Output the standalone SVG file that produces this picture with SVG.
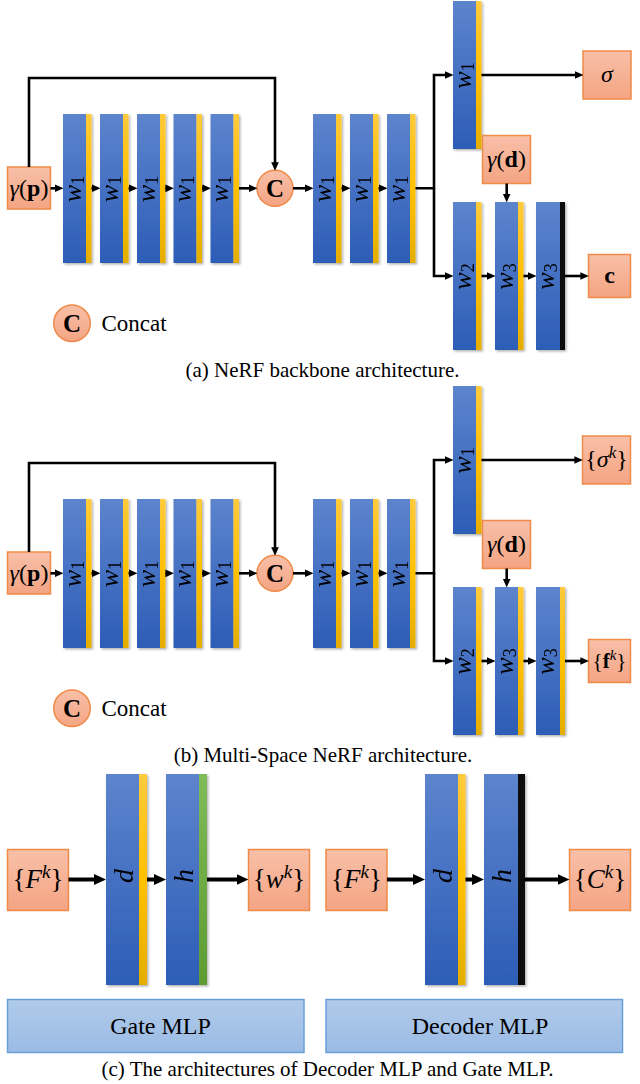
<svg xmlns="http://www.w3.org/2000/svg" width="640" height="1084" viewBox="0 0 640 1084">
  <defs>
    <linearGradient id="gBlue" x1="0" y1="0" x2="0" y2="1">
      <stop offset="0" stop-color="#5d84cd"/>
      <stop offset="1" stop-color="#2d5db7"/>
    </linearGradient>
    <linearGradient id="gYellow" x1="0" y1="0" x2="0" y2="1">
      <stop offset="0" stop-color="#ffca3c"/>
      <stop offset="0.5" stop-color="#ffc000"/>
      <stop offset="1" stop-color="#e4ae00"/>
    </linearGradient>
    <linearGradient id="gGreen" x1="0" y1="0" x2="0" y2="1">
      <stop offset="0" stop-color="#80bb5a"/>
      <stop offset="1" stop-color="#5c9c32"/>
    </linearGradient>
    <linearGradient id="gSalmon" x1="0" y1="0" x2="0" y2="1">
      <stop offset="0" stop-color="#f8c0a8"/>
      <stop offset="1" stop-color="#f4a483"/>
    </linearGradient>
    <linearGradient id="gPanel" x1="0" y1="0" x2="0" y2="1">
      <stop offset="0" stop-color="#b0cbea"/>
      <stop offset="1" stop-color="#9bbbe5"/>
    </linearGradient>
    <filter id="shadow" x="-20%" y="-5%" width="150%" height="112%">
      <feDropShadow dx="1.5" dy="1.5" stdDeviation="1" flood-color="#000" flood-opacity="0.3"/>
    </filter>
    <marker id="arrow" viewBox="0 0 10 10" markerUnits="userSpaceOnUse" markerWidth="8.5" markerHeight="8.5" refX="2" refY="5" orient="auto">
      <path d="M0,0.5 L10,5 L0,9.5 z" fill="#000"/>
    </marker>
    <marker id="arrowL" viewBox="0 0 10 10" markerUnits="userSpaceOnUse" markerWidth="12" markerHeight="12" refX="2" refY="5" orient="auto">
      <path d="M0,0.5 L10,5 L0,9.5 z" fill="#000"/>
    </marker>
    <style>
      .blue { fill: url(#gBlue); }
      .yel { fill: url(#gYellow); }
      .grn { fill: url(#gGreen); }
      .blk { fill: #111; }
      .bar { filter: url(#shadow); }
      .box { fill: url(#gSalmon); stroke: #ef8a48; stroke-width: 1.5; }
      .panel { fill: url(#gPanel); stroke: #6aa0da; stroke-width: 1.5; }
      .wire { fill: none; stroke: #000; stroke-width: 2.6; marker-end: url(#arrow); }
      .wireL { fill: none; stroke: #000; stroke-width: 4; marker-end: url(#arrowL); }
      text { font-family: "Liberation Serif", "Times New Roman", serif; fill: #000; }
      .lbl { font-size: 26px; font-style: italic; text-anchor: middle; }
      .lblL { font-size: 28px; font-style: italic; text-anchor: middle; }
      .sub { font-size: 18px; font-style: normal; }
      .math { font-size: 24px; text-anchor: middle; }
      .mathL { font-size: 27px; text-anchor: middle; }
      .it { font-style: italic; }
      .bf { font-weight: bold; }
      .sup { font-size: 17px; font-style: italic; }
      .supL { font-size: 19px; font-style: italic; }
      .cap { font-size: 21px; text-anchor: middle; }
      .leg { font-size: 23px; }
      .circ { fill: url(#gSalmon); stroke: #ef8a48; stroke-width: 1.5; }
      .ctext { font-size: 25px; font-weight: bold; text-anchor: middle; }
      .ptext { font-size: 24px; text-anchor: middle; }
    </style>
  </defs>

  <!-- ===== (a) NeRF backbone ===== -->
  <g id="a-input">
    <rect class="box" x="7.5" y="167" width="43" height="42"/>
    <text class="math" x="29" y="196"><tspan class="it">γ</tspan>(<tspan class="bf">p</tspan>)</text>
  </g>
  <g id="a-l1" class="bar"><rect class="blue" x="63" y="114" width="23" height="149"/><rect class="yel" x="86" y="114" width="5.5" height="149"/><text class="lbl" transform="translate(80.5,189) rotate(-90)">w<tspan class="sub" dy="3">1</tspan></text></g>
  <g id="a-l2" class="bar"><rect class="blue" x="100" y="114" width="23" height="149"/><rect class="yel" x="123" y="114" width="5.5" height="149"/><text class="lbl" transform="translate(117.5,189) rotate(-90)">w<tspan class="sub" dy="3">1</tspan></text></g>
  <g id="a-l3" class="bar"><rect class="blue" x="137" y="114" width="23" height="149"/><rect class="yel" x="160" y="114" width="5.5" height="149"/><text class="lbl" transform="translate(154.5,189) rotate(-90)">w<tspan class="sub" dy="3">1</tspan></text></g>
  <g id="a-l4" class="bar"><rect class="blue" x="173.5" y="114" width="23" height="149"/><rect class="yel" x="196.5" y="114" width="5.5" height="149"/><text class="lbl" transform="translate(191,189) rotate(-90)">w<tspan class="sub" dy="3">1</tspan></text></g>
  <g id="a-l5" class="bar"><rect class="blue" x="210.5" y="114" width="23" height="149"/><rect class="yel" x="233.5" y="114" width="5.5" height="149"/><text class="lbl" transform="translate(228,189) rotate(-90)">w<tspan class="sub" dy="3">1</tspan></text></g>
  <g id="a-concat">
    <circle class="circ" cx="275" cy="188.3" r="18"/>
    <text class="ctext" x="275" y="197">C</text>
  </g>
  <g id="a-l6" class="bar"><rect class="blue" x="313" y="114" width="23" height="149"/><rect class="yel" x="336" y="114" width="5.5" height="149"/><text class="lbl" transform="translate(330.5,189) rotate(-90)">w<tspan class="sub" dy="3">1</tspan></text></g>
  <g id="a-l7" class="bar"><rect class="blue" x="350" y="114" width="23" height="149"/><rect class="yel" x="373" y="114" width="5.5" height="149"/><text class="lbl" transform="translate(367.5,189) rotate(-90)">w<tspan class="sub" dy="3">1</tspan></text></g>
  <g id="a-l8" class="bar"><rect class="blue" x="387" y="114" width="23" height="149"/><rect class="yel" x="410" y="114" width="5.5" height="149"/><text class="lbl" transform="translate(404.5,189) rotate(-90)">w<tspan class="sub" dy="3">1</tspan></text></g>
  <g id="a-sigma-layer" class="bar"><rect class="blue" x="453" y="1" width="23" height="148"/><rect class="yel" x="476" y="1" width="5.5" height="148"/><text class="lbl" transform="translate(470.5,75.5) rotate(-90)">w<tspan class="sub" dy="3">1</tspan></text></g>
  <g id="a-sigma">
    <rect class="box" x="583" y="51" width="48" height="48"/>
    <text class="ptext it" x="607" y="82">σ</text>
  </g>
  <g id="a-dir">
    <rect class="box" x="482.5" y="135.5" width="48" height="48"/>
    <text class="math" x="506.5" y="167"><tspan class="it">γ</tspan>(<tspan class="bf">d</tspan>)</text>
  </g>
  <g id="a-c1" class="bar"><rect class="blue" x="453" y="202" width="23" height="148"/><rect class="yel" x="476" y="202" width="5.5" height="148"/><text class="lbl" transform="translate(470.5,276.5) rotate(-90)">w<tspan class="sub" dy="3">2</tspan></text></g>
  <g id="a-c2" class="bar"><rect class="blue" x="495" y="202" width="23" height="148"/><rect class="yel" x="518" y="202" width="5.5" height="148"/><text class="lbl" transform="translate(512.5,276.5) rotate(-90)">w<tspan class="sub" dy="3">3</tspan></text></g>
  <g id="a-c3" class="bar"><rect class="blue" x="536" y="202" width="24" height="148"/><rect class="blk" x="560" y="202" width="5" height="148"/><text class="lbl" transform="translate(554,276.5) rotate(-90)">w<tspan class="sub" dy="3">3</tspan></text></g>
  <g id="a-color">
    <rect class="box" x="588.5" y="254.5" width="42" height="43"/>
    <text class="ptext bf" x="609.5" y="283">c</text>
  </g>
  <g id="a-legend">
    <circle class="circ" cx="72" cy="323.3" r="18.3"/>
    <text class="ctext" x="72" y="332">C</text>
    <text class="leg" x="101.5" y="331">Concat</text>
  </g>
  <text id="a-caption" class="cap" x="322.5" y="377">(a) NeRF backbone architecture.</text>

  <g id="a-connectors">
    <path class="wire" d="M50.5,188.3 H56.6"/>
    <path class="wire" d="M91.5,188.3 H93.6"/>
    <path class="wire" d="M128.5,188.3 H130.6"/>
    <path class="wire" d="M165.5,188.3 H167.1"/>
    <path class="wire" d="M202,188.3 H204.1"/>
    <path class="wire" d="M239,188.3 H250.6"/>
    <path class="wire" d="M293,188.3 H306.6"/>
    <path class="wire" d="M341.5,188.3 H343.6"/>
    <path class="wire" d="M378.5,188.3 H380.6"/>
    <path class="wire" d="M29,167 V78 H275 V163.9"/>
    <path class="wire" d="M415.5,188.3 H434 V75 H446.6"/>
    <path class="wire" d="M434,188.3 V276 H446.6"/>
    <path class="wire" d="M481.5,75 H576.6"/>
    <path class="wire" d="M506.7,183.5 V195.6"/>
    <path class="wire" d="M481.5,276 H488.6"/>
    <path class="wire" d="M523.5,276 H529.6"/>
    <path class="wire" d="M565,276 H582.1"/>
  </g>

  <!-- ===== (b) Multi-Space NeRF ===== -->
  <g transform="translate(0,385)">
    <g id="b-input">
      <rect class="box" x="7.5" y="167" width="43" height="42"/>
      <text class="math" x="29" y="196"><tspan class="it">γ</tspan>(<tspan class="bf">p</tspan>)</text>
    </g>
    <g id="b-l1" class="bar"><rect class="blue" x="63" y="114" width="23" height="149"/><rect class="yel" x="86" y="114" width="5.5" height="149"/><text class="lbl" transform="translate(80.5,189) rotate(-90)">w<tspan class="sub" dy="3">1</tspan></text></g>
    <g id="b-l2" class="bar"><rect class="blue" x="100" y="114" width="23" height="149"/><rect class="yel" x="123" y="114" width="5.5" height="149"/><text class="lbl" transform="translate(117.5,189) rotate(-90)">w<tspan class="sub" dy="3">1</tspan></text></g>
    <g id="b-l3" class="bar"><rect class="blue" x="137" y="114" width="23" height="149"/><rect class="yel" x="160" y="114" width="5.5" height="149"/><text class="lbl" transform="translate(154.5,189) rotate(-90)">w<tspan class="sub" dy="3">1</tspan></text></g>
    <g id="b-l4" class="bar"><rect class="blue" x="173.5" y="114" width="23" height="149"/><rect class="yel" x="196.5" y="114" width="5.5" height="149"/><text class="lbl" transform="translate(191,189) rotate(-90)">w<tspan class="sub" dy="3">1</tspan></text></g>
    <g id="b-l5" class="bar"><rect class="blue" x="210.5" y="114" width="23" height="149"/><rect class="yel" x="233.5" y="114" width="5.5" height="149"/><text class="lbl" transform="translate(228,189) rotate(-90)">w<tspan class="sub" dy="3">1</tspan></text></g>
    <g id="b-concat">
      <circle class="circ" cx="275" cy="188.3" r="18"/>
      <text class="ctext" x="275" y="197">C</text>
    </g>
    <g id="b-l6" class="bar"><rect class="blue" x="313" y="114" width="23" height="149"/><rect class="yel" x="336" y="114" width="5.5" height="149"/><text class="lbl" transform="translate(330.5,189) rotate(-90)">w<tspan class="sub" dy="3">1</tspan></text></g>
    <g id="b-l7" class="bar"><rect class="blue" x="350" y="114" width="23" height="149"/><rect class="yel" x="373" y="114" width="5.5" height="149"/><text class="lbl" transform="translate(367.5,189) rotate(-90)">w<tspan class="sub" dy="3">1</tspan></text></g>
    <g id="b-l8" class="bar"><rect class="blue" x="387" y="114" width="23" height="149"/><rect class="yel" x="410" y="114" width="5.5" height="149"/><text class="lbl" transform="translate(404.5,189) rotate(-90)">w<tspan class="sub" dy="3">1</tspan></text></g>
    <g id="b-sigma-layer" class="bar"><rect class="blue" x="453" y="1" width="23" height="148"/><rect class="yel" x="476" y="1" width="5.5" height="148"/><text class="lbl" transform="translate(470.5,75.5) rotate(-90)">w<tspan class="sub" dy="3">1</tspan></text></g>
    <g id="b-sigma">
      <rect class="box" x="582.5" y="51" width="48" height="48"/>
      <text class="math" x="606.5" y="82">{<tspan class="it">σ</tspan><tspan class="sup" dy="-9">k</tspan><tspan dy="9">}</tspan></text>
    </g>
    <g id="b-dir">
      <rect class="box" x="482.5" y="135.5" width="48" height="48"/>
      <text class="math" x="506.5" y="167"><tspan class="it">γ</tspan>(<tspan class="bf">d</tspan>)</text>
    </g>
    <g id="b-c1" class="bar"><rect class="blue" x="453" y="202" width="23" height="148"/><rect class="yel" x="476" y="202" width="5.5" height="148"/><text class="lbl" transform="translate(470.5,276.5) rotate(-90)">w<tspan class="sub" dy="3">2</tspan></text></g>
    <g id="b-c2" class="bar"><rect class="blue" x="495" y="202" width="23" height="148"/><rect class="yel" x="518" y="202" width="5.5" height="148"/><text class="lbl" transform="translate(512.5,276.5) rotate(-90)">w<tspan class="sub" dy="3">3</tspan></text></g>
    <g id="b-c3" class="bar"><rect class="blue" x="536" y="202" width="24" height="148"/><rect class="yel" x="560" y="202" width="5" height="148"/><text class="lbl" transform="translate(554,276.5) rotate(-90)">w<tspan class="sub" dy="3">3</tspan></text></g>
    <g id="b-feat">
      <rect class="box" x="588.5" y="254.5" width="42" height="43"/>
      <text class="math" x="609.5" y="283" style="font-size:21px">{<tspan class="bf">f</tspan><tspan class="sup" dy="-8" style="font-size:15px">k</tspan><tspan dy="8">}</tspan></text>
    </g>
    <g id="b-legend">
      <circle class="circ" cx="72" cy="323.3" r="18.3"/>
      <text class="ctext" x="72" y="332">C</text>
      <text class="leg" x="101.5" y="331">Concat</text>
    </g>
    <text id="b-caption" class="cap" x="323" y="377">(b) Multi-Space NeRF architecture.</text>

    <g id="b-connectors">
      <path class="wire" d="M50.5,188.3 H56.6"/>
      <path class="wire" d="M91.5,188.3 H93.6"/>
      <path class="wire" d="M128.5,188.3 H130.6"/>
      <path class="wire" d="M165.5,188.3 H167.1"/>
      <path class="wire" d="M202,188.3 H204.1"/>
      <path class="wire" d="M239,188.3 H250.6"/>
      <path class="wire" d="M293,188.3 H306.6"/>
      <path class="wire" d="M341.5,188.3 H343.6"/>
      <path class="wire" d="M378.5,188.3 H380.6"/>
      <path class="wire" d="M29,167 V78 H275 V163.9"/>
      <path class="wire" d="M415.5,188.3 H434 V75 H446.6"/>
      <path class="wire" d="M434,188.3 V276 H446.6"/>
      <path class="wire" d="M481.5,75 H576.1"/>
      <path class="wire" d="M506.7,183.5 V195.6"/>
      <path class="wire" d="M481.5,276 H488.6"/>
      <path class="wire" d="M523.5,276 H529.6"/>
      <path class="wire" d="M565,276 H582.1"/>
    </g>
  </g>

  <!-- ===== (c) Gate MLP and Decoder MLP ===== -->
  <g id="g-in">
    <rect class="box" x="7.5" y="849.5" width="61" height="61"/>
    <text class="mathL" x="38" y="888">{<tspan class="it">F</tspan><tspan class="supL" dy="-10">k</tspan><tspan dy="10">}</tspan></text>
  </g>
  <g id="g-d" class="bar"><rect class="blue" x="106" y="774" width="33" height="211"/><rect class="yel" x="139" y="774" width="8" height="211"/><text class="lblL" transform="translate(133,876) rotate(-90)">d</text></g>
  <g id="g-h" class="bar"><rect class="blue" x="166" y="774" width="33" height="211"/><rect class="grn" x="199" y="774" width="8" height="211"/><text class="lblL" transform="translate(193,876) rotate(-90)">h</text></g>
  <g id="g-out">
    <rect class="box" x="248.5" y="849.5" width="61" height="61"/>
    <text class="mathL" x="279" y="888">{<tspan class="it">w</tspan><tspan class="supL" dy="-10">k</tspan><tspan dy="10">}</tspan></text>
  </g>
  <g id="g-panel">
    <rect class="panel" x="7.5" y="999.5" width="296.5" height="53"/>
    <text class="ptext" x="160.5" y="1034">Gate MLP</text>
  </g>

  <g id="d-in">
    <rect class="box" x="326" y="849.5" width="61" height="61"/>
    <text class="mathL" x="356.5" y="888">{<tspan class="it">F</tspan><tspan class="supL" dy="-10">k</tspan><tspan dy="10">}</tspan></text>
  </g>
  <g id="d-d" class="bar"><rect class="blue" x="425" y="774" width="33" height="211"/><rect class="yel" x="458" y="774" width="7.5" height="211"/><text class="lblL" transform="translate(452,876) rotate(-90)">d</text></g>
  <g id="d-h" class="bar"><rect class="blue" x="484" y="774" width="34" height="211"/><rect class="blk" x="518" y="774" width="7" height="211"/><text class="lblL" transform="translate(511,876) rotate(-90)">h</text></g>
  <g id="d-out">
    <rect class="box" x="569.5" y="849.5" width="61" height="61"/>
    <text class="mathL" x="600" y="888">{<tspan class="it">C</tspan><tspan class="supL" dy="-10">k</tspan><tspan dy="10">}</tspan></text>
  </g>
  <g id="d-panel">
    <rect class="panel" x="326" y="999.5" width="296.5" height="53"/>
    <text class="ptext" x="480" y="1034">Decoder MLP</text>
  </g>

  <g id="c-connectors">
    <path class="wireL" d="M68.5,879.5 H96.4"/>
    <path class="wireL" d="M147,879.5 H156.4"/>
    <path class="wireL" d="M207,879.5 H238.9"/>
    <path class="wireL" d="M387,879.5 H415.4"/>
    <path class="wireL" d="M465.5,879.5 H474.4"/>
    <path class="wireL" d="M525,879.5 H559.9"/>
  </g>

  <text id="c-caption" class="cap" x="327.5" y="1076">(c) The architectures of Decoder MLP and Gate MLP.</text>
</svg>
